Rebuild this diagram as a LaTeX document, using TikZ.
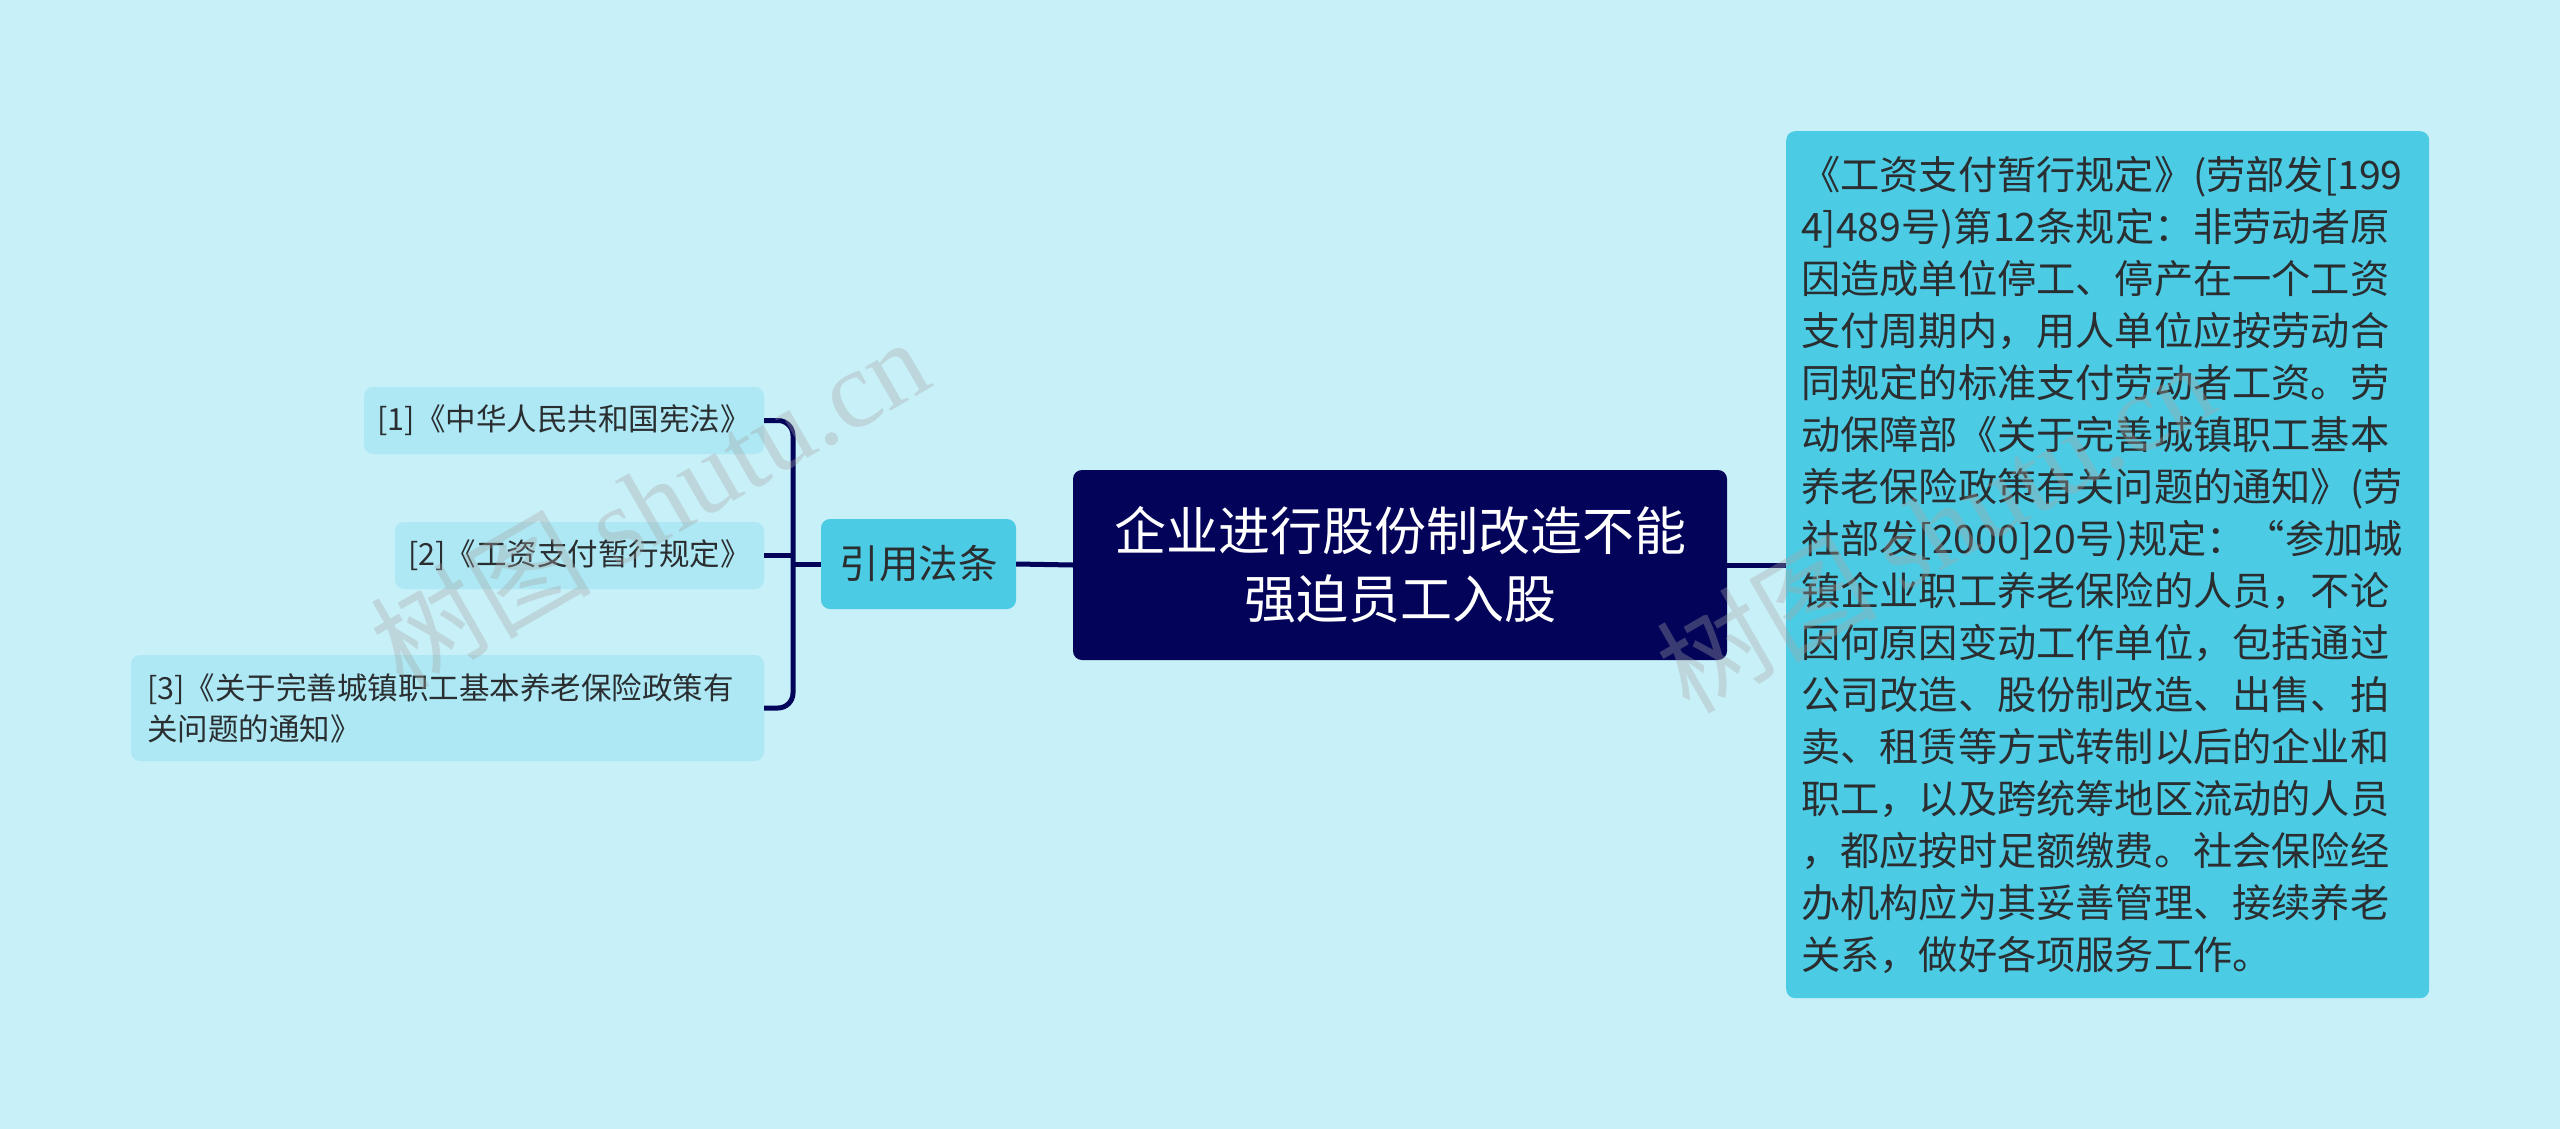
\documentclass[tikz,border=0pt]{standalone}
\usepackage{fontspec}
\setmainfont{Noto Sans CJK SC}
\newfontfamily\wmserif{Liberation Serif}
\definecolor{bgc}{HTML}{C8F0F8}
\definecolor{navy}{HTML}{03035A}
\definecolor{midc}{HTML}{4CCBE4}
\definecolor{leafc}{HTML}{ADE8F4}
\definecolor{txt}{HTML}{2A2E30}
\tikzset{
  box/.style={rounded corners=9pt, inner sep=0pt, align=center},
  rootbox/.style={box, fill=navy, text=white, font=\fontsize{52}{68}\selectfont},
  midbox/.style={box, fill=midc, text=txt, font=\fontsize{39.5}{46}\selectfont},
  leafbox/.style={box, fill=leafc, text=txt, font=\fontsize{30.5}{41}\selectfont},
  infobox/.style={box, fill=midc, text=txt, align=left, font=\fontsize{39.2}{52}\selectfont},
  conn/.style={draw=navy, line width=5pt},
  wm/.style={text=gray!70, opacity=0.35, rotate=30, font=\fontsize{110}{110}\selectfont}
}
\begin{document}
\begin{tikzpicture}[x=1pt,y=-1pt]
\useasboundingbox (0,0) rectangle (2560,1129);
\fill[bgc] (0,0) rectangle (2560,1129);

\node[rootbox, minimum width=654pt, minimum height=190pt] (root) at (1400,565)
  {企业进行股份制改造不能\\强迫员工入股};
\node[midbox, minimum width=195pt, minimum height=90pt] (ref) at (918.5,564) {引用法条};
\node[leafbox, minimum width=400pt, minimum height=67pt] (l1) at (564,420.5) {[1]《中华人民共和国宪法》};
\node[leafbox, minimum width=369pt, minimum height=67pt] (l2) at (579.5,555.5) {[2]《工资支付暂行规定》};
\node[leafbox, minimum width=633pt, minimum height=106pt, text width=601pt, align=left] (l3) at (447.5,708)
  {[3]《关于完善城镇职工基本养老保险政策有\\关问题的通知》};
\node[infobox, minimum width=643pt, minimum height=867pt, text width=613pt, anchor=north west] (info) at (1786,131)
  {《工资支付暂行规定》(劳部发[199\\
4]489号)第12条规定：非劳动者原\\
因造成单位停工、停产在一个工资\\
支付周期内，用人单位应按劳动合\\
同规定的标准支付劳动者工资。劳\\
动保障部《关于完善城镇职工基本\\
养老保险政策有关问题的通知》(劳\\
社部发[2000]20号)规定：“参加城\\
镇企业职工养老保险的人员，不论\\
因何原因变动工作单位，包括通过\\
公司改造、股份制改造、出售、拍\\
卖、租赁等方式转制以后的企业和\\
职工，以及跨统筹地区流动的人员\\
，都应按时足额缴费。社会保险经\\
办机构应为其妥善管理、接续养老\\
关系，做好各项服务工作。};

\coordinate (bx) at (793,564);
\draw[conn] (root.west) -- (ref.east);
\draw[conn] (root.east) -- (root.east -| info.west);
\draw[conn] (ref.west) -- (ref.west -| bx);
\draw[conn, rounded corners=15pt] (l1.east) -| (bx) |- (l3.east);
\draw[conn] (l2.east) -- (l2.east -| bx);

\node[wm] (wm1) at (649,502) {树图 {\wmserif shutu.cn}};
\node[wm] (wm2) at (1935,526) {树图 {\wmserif shutu.cn}};
\end{tikzpicture}
\end{document}
